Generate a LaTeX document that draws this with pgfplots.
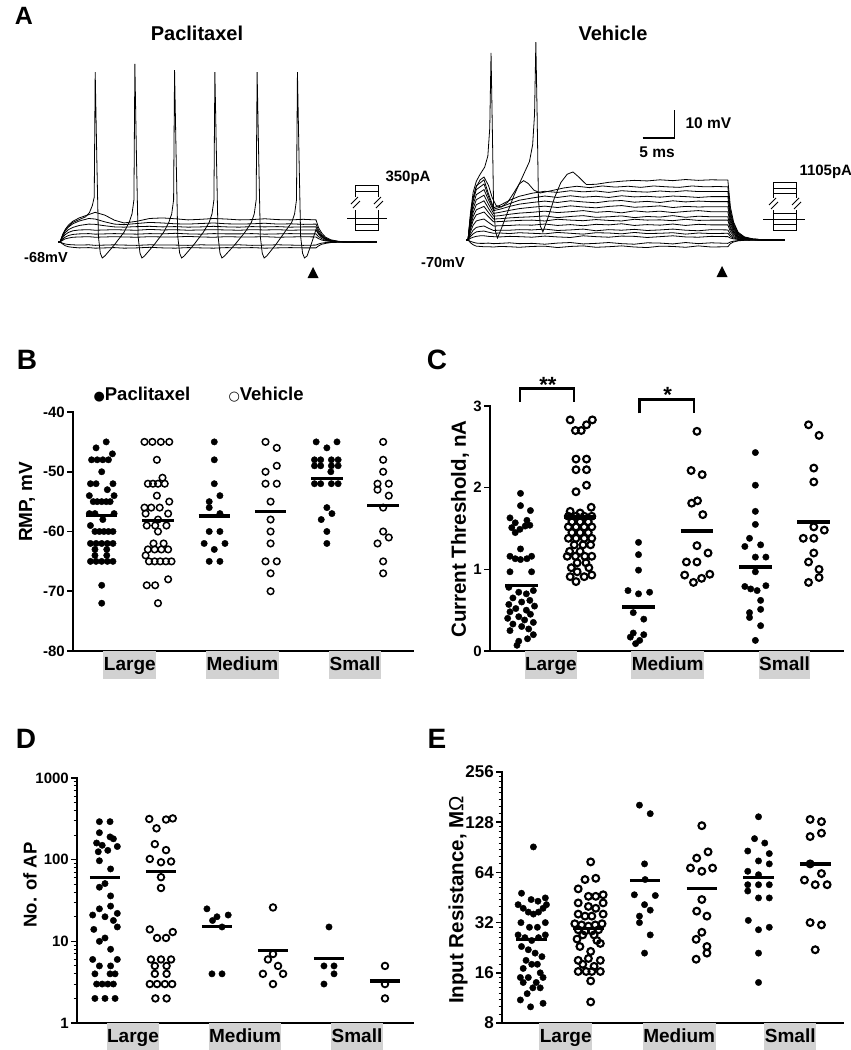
\documentclass[border=0pt]{standalone}
\usepackage{fontspec}
\setmainfont{Liberation Sans}
\newfontfamily\symfont{DejaVu Sans}
\usepackage{pgfplots}
\pgfplotsset{compat=1.18}
\usepackage{pgfplotstable}
\newcommand{\fsz}[1]{\fontsize{#1}{#1}\selectfont}

% Paclitaxel sub-threshold traces (t in ms, dV in mV above -68 mV)
\pgfplotstableread{
t p1 p2 p3 p4 p5 p6 p7 p8
-0.3 0 0 0 0 0 0 0 0
0 0 0 0 0 0 0 0 0
0.4 -0.7 -0.4 0.6 1.0 1.5 1.9 2.2 2.5
0.8 -1.3 -0.7 1.1 1.7 2.6 3.3 3.9 4.4
1.3 -1.7 -0.9 1.4 2.3 3.4 4.4 5.3 6.0
2 -1.9 -1.0 1.7 2.7 4.0 5.2 6.5 7.4
3 -2.1 -1.1 1.8 2.9 4.3 5.9 7.5 8.6
4.5 -2.0 -1.0 1.9 3.0 4.4 6.4 8.4 9.8
5.5 -2.2 -1.2 1.7 2.8 4.2 6.3 8.2 10.6
7 -2.1 -1.1 1.8 2.9 4.3 5.8 7.2 9.6
8.5 -2.0 -1.0 1.9 3.0 4.4 5.4 6.4 7.8
10 -2.2 -1.1 1.8 2.9 4.3 5.3 6.2 6.8
12 -2.1 -1.2 1.7 2.8 4.2 5.5 6.6 7.4
14 -1.9 -1.0 1.9 3.0 4.5 5.6 7.0 8.4
16 -2.1 -1.1 1.8 2.9 4.3 5.4 6.8 8.6
18 -2.2 -1.1 1.8 3.1 4.4 5.5 6.5 8.3
20 -2.0 -1.2 2.0 2.9 4.2 5.3 6.4 7.9
22 -2.1 -1.0 1.8 2.8 4.3 5.4 6.6 8.1
24 -2.2 -1.1 1.7 3.0 4.4 5.6 6.8 8.4
26 -2.0 -1.1 1.9 2.9 4.3 5.4 6.5 8.2
28 -2.1 -1.0 1.8 2.9 4.2 5.3 6.4 7.9
30 -2.0 -1.2 1.8 3.0 4.4 5.5 6.5 8.0
32 -2.2 -1.1 1.9 2.8 4.3 5.4 6.7 8.3
34 -2.1 -1.0 1.7 2.9 4.4 5.5 6.4 8.0
36 -2.0 -1.1 1.8 3.0 4.2 5.3 6.5 7.9
38 -2.1 -1.2 1.9 2.9 4.3 5.4 6.3 8.1
40 -2.1 -1.1 1.8 2.9 4.3 5.4 6.4 7.9
40.4 -1.4 -0.7 1.2 1.9 2.8 3.5 4.2 5.1
40.9 -0.8 -0.4 0.7 1.2 1.7 2.2 2.6 3.2
41.5 -0.5 -0.2 0.4 0.6 0.9 1.2 1.4 1.7
42.3 -0.2 -0.1 0.2 0.3 0.4 0.5 0.6 0.8
43.5 -0.1 0 0.05 0.1 0.1 0.15 0.2 0.25
45 0 0 0 0 0 0 0 0
47 0.1 -0.1 0.1 0 0.1 0 0.1 0
49.5 0 0 0 0 0 0 0 0
}\pactab

% Vehicle sub-threshold traces (t in ms, dV in mV above -70 mV)
\pgfplotstableread{
t c1 c2 c3 c4 c5 c6 c7 c8 c9 c10 c11 c12 c13
-0.3 0 0 0 0 0 0 0 0 0 0 0 0 0
0 0 0 0 0 0 0 0 0 0 0 0 0 0
0.4 -1.0 -0.5 0.6 1.3 2.0 3.0 4.0 4.8 5.6 6.4 7.2 8.0 8.6
0.8 -1.7 -0.8 1.0 2.2 3.5 5.3 7.0 8.4 9.8 11.2 12.6 14.0 15.0
1.3 -2.2 -1.1 1.3 2.9 4.5 6.8 9.0 10.8 12.6 14.4 16.2 18.0 19.4
1.9 -2.3 -1.2 1.5 3.1 4.8 7.2 9.5 11.4 13.3 15.2 17.1 19.0 20.4
2.5 -2.4 -1.2 1.5 3.2 5.0 7.5 10.0 12.0 14.0 16.0 18.0 20.0 21.5
3.2 -2.4 -1.1 1.3 2.8 4.2 6.3 8.3 9.8 11.3 12.8 14.3 15.5 16.5
4.0 -2.5 -1.3 1.2 2.4 3.4 5.0 6.5 7.5 8.5 9.5 10.5 11.0 11.5
5.0 -2.3 -1.2 1.1 2.5 3.5 5.1 6.6 7.6 8.7 9.9 11.0 11.7 12.4
6.5 -2.4 -1.0 1.3 2.3 3.5 5.2 6.8 7.9 9.2 10.6 12.0 13.0 14.2
8 -2.6 -1.3 1.2 2.6 3.7 5.4 7.0 8.1 9.6 11.2 12.8 14.2 15.6
10 -2.3 -1.2 1.0 2.4 3.6 5.3 7.1 8.3 9.9 11.7 13.4 15.0 16.7
12 -2.2 -1.5 1.4 2.2 3.9 5.7 6.8 8.6 10.3 12.1 13.9 15.7 17.4
14 -2.7 -1.1 1.1 2.7 3.4 5.2 7.4 8.0 9.8 11.6 13.4 15.2 17.0
16 -2.3 -0.9 0.9 2.4 3.6 5.5 7.1 8.4 10.1 12.2 14.0 15.8 17.6
18 -2.1 -1.4 1.5 2.1 3.9 5.1 6.9 8.7 10.5 11.8 13.6 15.3 17.2
20 -2.6 -1.2 1.2 2.6 3.3 5.6 7.3 8.1 9.9 11.5 13.3 15.6 17.5
22 -2.4 -0.9 1.0 2.5 3.7 5.4 7.0 8.3 10.2 12.0 13.9 15.2 17.0
24 -2.1 -1.3 1.4 2.2 3.5 5.8 6.8 8.6 9.7 12.3 14.1 15.8 17.6
26 -2.5 -1.5 1.3 2.7 3.8 5.2 7.4 8.0 10.4 11.7 13.5 15.4 17.3
28 -2.7 -1.0 0.9 2.3 3.4 5.5 7.1 8.4 10.0 11.9 13.8 15.6 17.1
30 -2.2 -1.1 1.2 2.4 3.6 5.3 7.2 8.2 10.3 12.2 13.4 15.3 17.5
32 -2.3 -1.4 1.5 2.6 3.9 5.7 6.9 8.7 9.8 11.6 14.0 15.7 17.2
34 -2.6 -0.9 1.1 2.1 3.5 5.2 7.4 8.1 10.2 12.0 13.6 15.5 17.6
36 -2.1 -1.3 1.0 2.5 3.3 5.6 7.0 8.5 10.5 11.8 13.9 15.2 17.3
38 -2.5 -1.0 1.3 2.3 3.7 5.4 7.1 8.3 10.1 11.9 13.7 15.5 17.3
40.6 -2.4 -1.2 1.2 2.4 3.6 5.4 7.1 8.3 10.1 11.9 13.7 15.5 17.3
41.0 -1.3 -0.7 0.7 1.3 2.0 3.0 3.9 4.6 5.6 6.5 7.5 8.5 9.5
41.5 -0.7 -0.4 0.4 0.7 1.1 1.6 2.1 2.5 3.0 3.6 4.1 4.6 5.2
42.2 -0.3 -0.2 0.2 0.3 0.5 0.7 0.9 1.1 1.3 1.5 1.8 2.0 2.2
43.2 -0.1 -0.1 0.1 0.1 0.2 0.3 0.4 0.4 0.5 0.6 0.7 0.8 0.9
44.5 0 0 0 0 0.1 0.1 0.1 0.2 0.2 0.2 0.3 0.3 0.3
46.5 0.2 -0.2 0.1 -0.1 0 0.1 0 0 0.1 0 0.1 0 0.1
49.5 0 0 0 0 0 0 0 0 0 0 0 0 0
}\vehtab

\pgfplotsset{
  swarm/.style={
    scale only axis, clip=false,
    axis x line*=bottom, axis y line*=left,
    axis line style={line width=2.2pt, line cap=rect},
    xtick=\empty,
    ytick pos=left, tick align=outside,
    major tick length=6pt, minor tick length=3.5pt,
    tick style={line width=1.6pt, black},
    minor tick style={line width=1.0pt},
    yticklabel style={font=\bfseries\fsz{15}, inner xsep=2pt},
    /pgf/number format/assume math mode=true,
  },
  pac/.style={only marks, mark=*, mark size=3.2pt, black},
  veh/.style={only marks, mark=o, mark size=3.3pt, black, mark options={line width=1.5pt}},
  vehC/.style={only marks, mark=o, mark size=3.4pt, black, mark options={line width=2.1pt}},
  meanl/.style={black, line width=3.3pt, no marks},
  trace/.style={black, line width=0.8pt, no marks},
}
\tikzset{
  catlab/.style={anchor=north, fill=gray!35, inner xsep=0.5pt, inner ysep=5pt, text height=14pt, text depth=4pt, font=\bfseries\fsz{19}},
}

\begin{document}
\begin{tikzpicture}
\useasboundingbox (0pt,0pt) rectangle (851pt,-1050pt);

% ================= Panel A =================
\node[font=\bfseries\fsz{25}] at (24pt,-16pt) {A};
\node[font=\bfseries\fsz{20}] at (197pt,-33pt) {Paclitaxel};
\node[font=\bfseries\fsz{20}] at (613pt,-33pt) {Vehicle};

\begin{axis}[hide axis, scale only axis, clip=false, at={(56.8pt,-264.4pt)}, anchor=south west,
  width=323.2pt, height=207.2pt, xmin=-0.5, xmax=50, ymin=-8, ymax=66]
\addplot[trace] table[x=t,y=p1]{\pactab};
\addplot[trace] table[x=t,y=p2]{\pactab};
\addplot[trace] table[x=t,y=p3]{\pactab};
\addplot[trace] table[x=t,y=p4]{\pactab};
\addplot[trace] table[x=t,y=p5]{\pactab};
\addplot[trace] table[x=t,y=p6]{\pactab};
\addplot[trace] table[x=t,y=p7]{\pactab};
\addplot[trace] table[x=t,y=p8]{\pactab};
\addplot[trace] coordinates {(-0.3,0) (0,0) (0.5,3) (1,5) (2,7) (3,8) (4,9) (4.6,10.5) (5.05,13) (5.35,16) (5.5,60.7) (5.75,30) (6.0,2) (6.3,-4) (6.6,-5.7) (7.0,-5.0) (8.5,-1.0) (10.0,3.5) (10.8,7.0) (11.25,10) (11.55,15) (11.7,63.6) (11.95,30) (12.2,2) (12.5,-4) (12.8,-5.7) (13.2,-5.0) (14.7,-1.0) (16.2,3.5) (17.0,7.0) (17.45,10) (17.75,15) (17.9,61.4) (18.15,30) (18.4,2) (18.7,-4) (19.0,-5.7) (19.4,-5.0) (20.9,-1.0) (22.4,3.5) (23.3,7.0) (23.75,10) (24.05,15) (24.2,60.7) (24.45,30) (24.7,2) (25.0,-4) (25.3,-5.7) (25.7,-5.0) (27.3,-1.0) (28.9,3.5) (29.9,7.0) (30.35,10) (30.65,15) (30.8,60.7) (31.05,30) (31.3,2) (31.6,-4) (31.9,-5.7) (32.3,-5.0) (33.7,-1.0) (35.1,3.5) (36.2,7.0) (36.65,10) (36.95,15) (37.1,60.7) (37.35,30) (37.6,2) (37.9,-4) (38.2,-5.7) (38.6,-5.0) (39.3,-0.5) (40.0,4.5) (40.4,3.0) (40.9,1.9) (41.5,1.0) (42.3,0.4) (43.5,0.1) (45,0) (49.5,0)};
\end{axis}

\begin{axis}[hide axis, scale only axis, clip=false, at={(464.8pt,-262.4pt)}, anchor=south west,
  width=323.2pt, height=224pt, xmin=-0.5, xmax=50, ymin=-8, ymax=72]
\addplot[trace] table[x=t,y=c1]{\vehtab};
\addplot[trace] table[x=t,y=c2]{\vehtab};
\addplot[trace] table[x=t,y=c3]{\vehtab};
\addplot[trace] table[x=t,y=c4]{\vehtab};
\addplot[trace] table[x=t,y=c5]{\vehtab};
\addplot[trace] table[x=t,y=c6]{\vehtab};
\addplot[trace] table[x=t,y=c7]{\vehtab};
\addplot[trace] table[x=t,y=c8]{\vehtab};
\addplot[trace] table[x=t,y=c9]{\vehtab};
\addplot[trace] table[x=t,y=c10]{\vehtab};
\addplot[trace] table[x=t,y=c11]{\vehtab};
\addplot[trace] table[x=t,y=c12]{\vehtab};
\addplot[trace] table[x=t,y=c13]{\vehtab};
\addplot[trace] coordinates {(-0.3,0) (0,0) (0.4,9) (0.8,15) (1.3,19) (1.9,21.5) (2.5,22.5) (3.2,19.5) (3.8,15) (4.4,12.3) (5.2,11.8) (6.2,13.5) (7.2,17) (8.0,20) (8.7,21.2) (9.4,20.2) (10.3,17.8) (11.3,16.8) (13,17.6) (15,18.6) (17,19.2) (19,18.7) (21,19.3) (23,18.9) (25,19.2) (27,18.8) (29,19.3) (31,19.0) (33,18.8) (35,19.3) (37,19.0) (39,19.1) (40.6,19.0) (41.0,10.4) (41.5,5.7) (42.2,2.5) (43.2,1.0) (44.5,0.3) (46.5,0) (49.5,0)};
\addplot[trace] coordinates {(-0.3,0) (0,0) (0.4,10) (0.8,17) (1.3,21) (1.9,23.5) (2.6,26) (3.1,30) (3.4,40) (3.6,66.8) (3.8,40) (4.0,12) (4.3,3) (4.6,0.7) (5.2,4) (6.2,10) (7.2,16) (8.0,20) (8.8,24) (9.6,28) (10.1,34) (10.4,45) (10.6,70.7) (10.8,45) (11.0,15) (11.3,5) (11.7,2.9) (12.5,8) (13.5,15) (14.5,20.5) (15.5,23.5) (16.4,24.3) (17.3,22.5) (18.5,19.8) (20,19.9) (22,20.6) (24,21.0) (26,21.3) (28,21.1) (30,21.5) (32,21.2) (34,21.6) (36,21.3) (38,21.5) (40.6,21.4) (41.0,11.8) (41.5,6.4) (42.2,2.8) (43.2,1.1) (44.5,0.4) (46.5,0) (49.5,0)};
% scale bar
\draw[line width=1.2pt] (axis cs:27.3,36.4) -- (axis cs:32.3,36.4) -- (axis cs:32.3,46.4);
\end{axis}

\node[font=\bfseries\fsz{15.5}, anchor=west] at (682pt,-123pt) {10 mV};
\node[font=\bfseries\fsz{15.5}] at (657pt,-152pt) {5 ms};
\node[font=\bfseries\fsz{15}, anchor=west] at (382pt,-178pt) {350pA};
\node[font=\bfseries\fsz{15}, anchor=west] at (796pt,-172pt) {1105pA};
\node[font=\bfseries\fsz{14.5}] at (46pt,-258pt) {-68mV};
\node[font=\bfseries\fsz{14.5}] at (443pt,-263pt) {-70mV};
\fill (313pt,-267pt) -- (307.5pt,-278pt) -- (318.5pt,-278pt) -- cycle;
\fill (722pt,-266pt) -- (716.5pt,-277pt) -- (727.5pt,-277pt) -- cycle;

% stimulus icons
\begin{scope}[line width=0.9pt]
 \draw (355pt,-197pt) -- (355pt,-185pt) -- (378pt,-185pt) -- (378pt,-197pt);
 \draw (355pt,-191pt) -- (378pt,-191pt);
 \draw (355pt,-210pt) -- (355pt,-230pt) -- (378pt,-230pt) -- (378pt,-210pt);
 \draw (347pt,-218pt) -- (387pt,-218pt);
 \draw (355pt,-224pt) -- (378pt,-224pt);
 \draw (351pt,-204pt) -- (358pt,-197pt); \draw (353pt,-208pt) -- (360pt,-201pt);
 \draw (374pt,-204pt) -- (381pt,-197pt); \draw (376pt,-208pt) -- (383pt,-201pt);
 \draw (773pt,-198pt) -- (773pt,-182pt) -- (796pt,-182pt) -- (796pt,-198pt);
 \draw (773pt,-188pt) -- (796pt,-188pt);
 \draw (773pt,-193pt) -- (796pt,-193pt);
 \draw (773pt,-210pt) -- (773pt,-230pt) -- (796pt,-230pt) -- (796pt,-210pt);
 \draw (763pt,-219pt) -- (805pt,-219pt);
 \draw (773pt,-213pt) -- (796pt,-213pt);
 \draw (773pt,-224pt) -- (796pt,-224pt);
 \draw (769pt,-205pt) -- (776pt,-198pt); \draw (771pt,-209pt) -- (778pt,-202pt);
 \draw (792pt,-205pt) -- (799pt,-198pt); \draw (794pt,-209pt) -- (801pt,-202pt);
\end{scope}

% ================= Panel B =================
\node[font=\bfseries\fsz{28}] at (27pt,-360pt) {B};
\node[font=\bfseries\fsz{18.5}, anchor=west] at (90pt,-395pt) {{\symfont\fsz{13}●}Paclitaxel};
\node[font=\bfseries\fsz{18.5}, anchor=west] at (225pt,-395pt) {{\symfont\fsz{13}○}Vehicle};
\node[rotate=90, font=\bfseries\fsz{19}] at (27pt,-502pt) {RMP, mV};

\begin{axis}[swarm, at={(73pt,-651pt)}, anchor=south west, width=340pt, height=239pt,
  xmin=0.49, xmax=6.53, ymin=-80, ymax=-40,
  ytick={-80,-70,-60,-50,-40}, yticklabels={-80,-70,-60,-50,-40}]
\addplot[pac] coordinates {(1.08,-45) (0.90,-46) (1.19,-47) (0.82,-48) (0.92,-48) (1.02,-48) (1.12,-48) (1.0,-50) (0.8,-52) (0.9,-52) (1.2,-52) (1.1,-53) (0.78,-54) (1.22,-54) (0.85,-55) (0.92,-55) (1.0,-55) (1.08,-55) (1.15,-55) (0.78,-57) (0.88,-57) (1.22,-57) (1.02,-58) (0.8,-59) (0.88,-60) (0.96,-60) (1.04,-60) (1.12,-60) (1.2,-60) (0.8,-62) (0.9,-62) (1.0,-62) (1.1,-62) (1.2,-62) (0.88,-63) (1.09,-63) (0.88,-64) (1.09,-64) (0.8,-65) (0.9,-65) (1.0,-65) (1.1,-65) (1.2,-65) (1.0,-69) (1.0,-72)};
\addplot[veh] coordinates {(1.76,-45) (1.9,-45) (2.05,-45) (2.2,-45) (1.98,-48) (2.08,-51) (1.82,-52) (1.91,-52) (2.0,-52) (2.12,-52) (1.98,-54) (2.2,-55) (1.76,-56) (1.88,-56) (2.03,-56) (1.78,-57) (2.18,-57) (2.0,-58) (1.8,-59) (1.95,-59) (2.15,-59) (2.0,-60) (1.92,-62) (2.1,-62) (1.82,-63) (1.94,-63) (2.06,-63) (2.18,-63) (1.78,-64) (1.84,-65) (1.94,-65) (2.04,-65) (2.14,-65) (2.24,-65) (2.18,-68) (1.8,-69) (1.95,-69) (2.0,-72)};
\addplot[pac] coordinates {(3,-45) (3,-48) (3,-52) (3.1,-54) (2.91,-55) (2.91,-56) (3.1,-57) (2.91,-60) (3.1,-60) (2.82,-62) (3.19,-62) (3,-63) (2.91,-65) (3.1,-65)};
\addplot[veh] coordinates {(3.91,-45) (4.11,-46) (4.11,-49) (3.91,-50) (3.91,-52) (4.11,-52) (4,-55) (4,-58) (4,-60) (4,-62) (3.91,-65) (4.11,-65) (4,-67) (4,-70)};
\addplot[pac] coordinates {(4.81,-45) (5.18,-45) (5,-46) (4.78,-48) (4.89,-48) (5.08,-48) (5.2,-48) (4.78,-49) (4.89,-49) (5.08,-49) (5.2,-49) (5.07,-50) (4.78,-52) (4.89,-52) (5.08,-52) (5.2,-52) (5,-56) (5.09,-57) (4.9,-58) (5,-60) (5,-62)};
\addplot[veh] coordinates {(6,-45) (6,-48) (6,-50) (5.9,-52) (6.1,-52) (5.9,-53) (6.1,-54) (6,-56) (6,-60) (6.1,-61) (5.9,-62) (6,-65) (6,-67)};
\addplot[meanl] coordinates {(0.72,-57.3) (1.28,-57.3)};
\addplot[meanl] coordinates {(1.72,-58.1) (2.28,-58.1)};
\addplot[meanl] coordinates {(2.72,-57.4) (3.28,-57.4)};
\addplot[meanl] coordinates {(3.72,-56.7) (4.28,-56.7)};
\addplot[meanl] coordinates {(4.72,-51.1) (5.28,-51.1)};
\addplot[meanl] coordinates {(5.72,-55.7) (6.28,-55.7)};
\node[catlab] at (axis cs:1.5,-80) {Large};
\node[catlab] at (axis cs:3.5,-80) {Medium};
\node[catlab] at (axis cs:5.5,-80) {Small};
\end{axis}

% ================= Panel C =================
\node[font=\bfseries\fsz{28}] at (437pt,-360pt) {C};
\node[rotate=90, font=\bfseries\fsz{20.5}] at (460pt,-529pt) {Current Threshold, nA};

\begin{axis}[swarm, at={(490pt,-651pt)}, anchor=south west, width=353pt, height=245pt,
  xmin=0.458, xmax=6.50, ymin=0, ymax=3,
  ytick={0,1,2,3}, yticklabels={0,1,2,3}]
\addplot[pac] coordinates {(0.98,1.93) (0.98,1.78) (1.15,1.72) (0.8,1.63) (0.89,1.57) (1.09,1.60) (1.14,1.54) (0.83,1.51) (0.97,1.49) (1.06,1.53) (0.89,1.45) (0.98,1.25) (0.8,1.16) (0.89,1.13) (0.98,1.12) (1.09,1.13) (1.17,1.16) (0.8,0.97) (1.17,0.97) (0.78,0.78) (1.2,0.74) (0.95,0.72) (1.08,0.70) (0.85,0.65) (1.14,0.62) (1.0,0.60) (0.78,0.57) (1.22,0.55) (0.9,0.52) (1.08,0.50) (0.8,0.48) (1.15,0.45) (0.95,0.42) (0.76,0.40) (1.05,0.38) (1.2,0.35) (0.85,0.33) (1.0,0.30) (1.12,0.27) (0.8,0.25) (1.2,0.20) (1.1,0.15) (0.95,0.12) (0.92,0.07)};
\addplot[vehC] coordinates {(1.83,2.83) (1.92,2.70) (2.02,2.70) (2.11,2.77) (2.21,2.83) (1.93,2.35) (2.11,2.35) (1.93,2.22) (2.11,2.22) (1.93,1.95) (2.11,2.03) (1.83,1.71) (2.0,1.69) (2.19,1.76) (1.8,1.65) (1.93,1.65) (2.07,1.65) (2.2,1.65) (1.86,1.58) (2.0,1.58) (2.14,1.58) (1.8,1.52) (1.93,1.52) (2.07,1.52) (2.2,1.52) (1.86,1.45) (2.0,1.45) (2.14,1.45) (1.8,1.38) (1.93,1.38) (2.07,1.38) (2.2,1.38) (1.9,1.30) (2.05,1.30) (2.18,1.30) (1.82,1.22) (2.0,1.22) (1.78,1.16) (1.92,1.16) (2.08,1.16) (2.2,1.16) (1.95,1.08) (2.1,1.08) (1.85,1.02) (2.15,1.02) (1.95,0.97) (1.83,0.91) (1.93,0.85) (2.07,0.91) (2.2,0.93)};
\addplot[pac] coordinates {(3,1.33) (3,1.18) (3,0.99) (2.82,0.74) (3,0.70) (3.19,0.72) (2.91,0.47) (3.09,0.39) (2.91,0.22) (3.09,0.20) (2.86,0.17) (3.02,0.13) (2.95,0.09)};
\addplot[vehC] coordinates {(4,2.69) (3.9,2.21) (4.09,2.16) (3.91,1.81) (4.01,1.84) (4.1,1.67) (4,1.29) (4.19,1.20) (3.82,1.09) (4,1.09) (3.79,0.93) (3.94,0.84) (4.08,0.89) (4.22,0.94)};
\addplot[pac] coordinates {(5,2.43) (5,2.03) (5,1.71) (5,1.55) (4.9,1.38) (4.82,1.28) (5.09,1.30) (5,1.15) (5.18,1.15) (5,0.97) (4.82,0.79) (4.92,0.76) (5.18,0.80) (5.03,0.74) (5.09,0.62) (4.9,0.47) (5.09,0.51) (4.9,0.41) (5.09,0.31) (5,0.13)};
\addplot[vehC] coordinates {(5.91,2.77) (6.09,2.64) (6,2.24) (6,2.07) (6,1.52) (6.18,1.48) (5.82,1.38) (6,1.38) (6,1.20) (5.91,1.09) (6.09,1.00) (5.91,0.84) (6.09,0.90)};
\addplot[meanl] coordinates {(0.72,0.80) (1.28,0.80)};
\addplot[meanl] coordinates {(1.72,1.64) (2.28,1.64)};
\addplot[meanl] coordinates {(2.72,0.54) (3.28,0.54)};
\addplot[meanl] coordinates {(3.72,1.47) (4.28,1.47)};
\addplot[meanl] coordinates {(4.72,1.03) (5.28,1.03)};
\addplot[meanl] coordinates {(5.72,1.58) (6.28,1.58)};
\draw[line width=2.8pt] (axis cs:0.971,3.05) -- (axis cs:0.971,3.217) -- (axis cs:1.894,3.217) -- (axis cs:1.894,3.05);
\draw[line width=2.8pt] (axis cs:3.022,2.91) -- (axis cs:3.022,3.082) -- (axis cs:3.95,3.082) -- (axis cs:3.95,2.91);
\node[font=\bfseries\fsz{22}, anchor=base] at (axis cs:1.45,3.17) {**};
\node[font=\bfseries\fsz{22}, anchor=base] at (axis cs:3.5,3.04) {*};
\node[catlab] at (axis cs:1.5,0) {Large};
\node[catlab] at (axis cs:3.5,0) {Medium};
\node[catlab] at (axis cs:5.5,0) {Small};
\end{axis}

% ================= Panel D =================
\node[font=\bfseries\fsz{28}] at (26pt,-739pt) {D};
\node[rotate=90, font=\bfseries\fsz{18.5}] at (30pt,-885pt) {No. of AP};

\begin{axis}[swarm, at={(77pt,-1023pt)}, anchor=south west, width=336pt, height=245pt,
  xmin=0.5, xmax=6.5, ymode=log, ymin=1, ymax=1000,
  ytick={1,10,100,1000}, yticklabels={1,10,100,1000},
  minor ytick={2,3,4,5,6,7,8,9,20,30,40,50,60,70,80,90,200,300,400,500,600,700,800,900}]
\addplot[pac] coordinates {(0.9,292) (1.09,292) (0.9,214) (1.09,190) (1.15,180) (0.85,160) (0.95,150) (1.22,145) (1.05,130) (0.88,125) (0.9,97) (1.1,77) (1.0,51) (0.9,46) (1.1,36) (1.1,27) (0.9,25) (1.22,22) (0.78,21) (1.0,20) (1.15,18) (1.22,15) (0.8,14) (1.0,11) (0.9,10) (1.1,8) (0.78,6) (1.22,6) (0.9,5) (1.1,5) (0.82,4) (1.09,4) (1.18,4) (0.85,3) (0.95,3) (1.05,3) (1.15,3) (0.82,2) (1.0,2) (1.18,2)};
\addplot[veh, mark options={line width=1.8pt}] coordinates {(1.79,315) (2.09,310) (2.21,320) (1.92,242) (1.89,155) (2.09,131) (1.8,102) (2.0,93) (2.18,95) (2.0,61) (2.0,45) (1.8,14) (1.93,11) (2.09,11) (2.21,13) (1.82,6) (2.0,6) (2.18,6) (1.89,5) (2.1,5) (1.89,4) (2.1,4) (1.8,3) (1.93,3) (2.07,3) (2.2,3) (1.9,2) (2.1,2)};
\addplot[pac] coordinates {(2.82,25) (3.2,21) (3,20) (2.92,18) (3.09,15) (2.91,4) (3.09,4)};
\addplot[veh, mark options={line width=1.8pt}] coordinates {(4,26) (4,7) (3.91,6) (4.09,5) (3.82,4) (4.18,4) (4,3)};
\addplot[pac] coordinates {(5,15) (4.91,5) (5.09,5) (5.09,4) (4.91,3)};
\addplot[veh, mark options={line width=1.8pt}] coordinates {(6,5) (6,3) (6,2)};
\addplot[meanl] coordinates {(0.73,60) (1.27,60)};
\addplot[meanl] coordinates {(1.73,71) (2.27,71)};
\addplot[meanl] coordinates {(2.73,15.2) (3.27,15.2)};
\addplot[meanl] coordinates {(3.73,7.8) (4.27,7.8)};
\addplot[meanl] coordinates {(4.73,6.2) (5.27,6.2)};
\addplot[meanl] coordinates {(5.73,3.27) (6.27,3.27)};
\node[catlab] at (axis cs:1.5,1) {Large};
\node[catlab] at (axis cs:3.5,1) {Medium};
\node[catlab] at (axis cs:5.5,1) {Small};
\end{axis}

% ================= Panel E =================
\node[font=\bfseries\fsz{28}] at (437pt,-739pt) {E};
\node[rotate=90, font=\bfseries\fsz{20.5}] at (458pt,-900pt) {Input Resistance, M{\mdseries Ω}};

\begin{axis}[swarm, at={(502pt,-1023pt)}, anchor=south west, width=341pt, height=251pt,
  xmin=0.476, xmax=6.49, ymode=log, log basis y=2, ymin=8, ymax=256,
  ytick={8,16,32,64,128,256}, yticklabels={8,16,32,64,128,256},
  yticklabel style={font=\bfseries\fsz{17}},
  extra y ticks={9,10,11,12,13,14,15,18,20,22,24,26,28,30,36,40,44,48,52,56,60,72,80,88,96,104,112,120,144,160,176,192,208,224,240},
  extra y tick labels={},
  extra y tick style={major tick length=3.5pt, tick style={line width=1.0pt}}]
\addplot[pac] coordinates {(1.03,91) (0.82,48) (0.99,44) (1.11,43) (1.24,45) (0.76,41) (0.85,39) (0.94,37) (1.03,36) (1.12,37) (1.2,39) (1.26,41) (0.81,32) (0.96,30) (1.1,30) (1.24,32) (0.76,27) (0.88,26) (1.0,25) (1.12,26) (1.24,27) (0.82,23) (0.94,22) (1.06,21) (1.18,20) (0.9,19) (1.0,18) (1.1,18) (0.85,17) (1.15,16) (0.8,15) (0.94,15) (1.2,15) (1.08,14) (0.85,14) (1.02,13) (0.92,12) (1.15,13) (0.8,11) (0.98,10) (1.2,10.5)};
\addplot[vehC] coordinates {(2.04,74) (1.94,58) (2.13,59) (1.82,51) (2.0,46) (2.13,46) (2.26,47) (1.82,42) (2.0,40) (2.13,39) (2.26,42) (1.82,36) (1.94,35) (2.06,35) (2.26,36) (1.76,31.5) (1.88,31) (2.0,30.5) (2.12,31) (2.24,31.5) (1.82,29) (1.94,28.5) (2.06,28.5) (2.18,29) (1.9,27) (2.1,27) (1.8,25.5) (2.15,25) (2.21,24) (1.85,23) (2.04,21.5) (1.82,19) (2.0,19.5) (2.21,19) (1.9,18) (2.1,17.5) (1.82,16.3) (1.96,16.3) (2.06,16.3) (2.21,16.3) (2.04,14.3) (2.04,10.7)};
\addplot[pac] coordinates {(2.9,162) (3.09,144) (2.99,72) (3,58) (2.81,47) (3.18,46.5) (2.99,41) (3.09,38) (2.9,35) (2.9,32) (3.09,27) (2.99,21)};
\addplot[vehC] coordinates {(4,122) (4.11,85) (3.91,78) (3.8,68) (4,65) (4.19,68) (4,44) (3.91,37.5) (4.09,35) (4,28) (3.9,25.4) (4.09,23) (4.09,21) (3.9,19.3)};
\addplot[pac] coordinates {(5,138) (4.93,102) (5.11,96) (4.81,86) (5.19,83) (5,75) (5.19,72) (4.81,65) (5,62) (4.81,54) (5,54) (5.19,54) (4.81,49.5) (5,45) (5.19,45) (4.82,33) (5,29) (5.19,30) (5,21) (5,14)};
\addplot[vehC] coordinates {(5.91,133) (6.11,129) (5.91,105) (6.11,110) (5.91,72) (6.11,63) (5.81,57.6) (6,54) (6.21,54) (5.91,32) (6.11,31) (6,22)};
\addplot[meanl] coordinates {(0.73,25.4) (1.27,25.4)};
\addplot[meanl] coordinates {(1.73,29.6) (2.27,29.6)};
\addplot[meanl] coordinates {(2.73,57) (3.27,57)};
\addplot[meanl] coordinates {(3.73,51.4) (4.27,51.4)};
\addplot[meanl] coordinates {(4.73,59.4) (5.27,59.4)};
\addplot[meanl] coordinates {(5.73,72) (6.27,72)};
\node[catlab] at (axis cs:1.6,8) {Large};
\node[catlab] at (axis cs:3.6,8) {Medium};
\node[catlab] at (axis cs:5.56,8) {Small};
\end{axis}

\end{tikzpicture}
\end{document}
